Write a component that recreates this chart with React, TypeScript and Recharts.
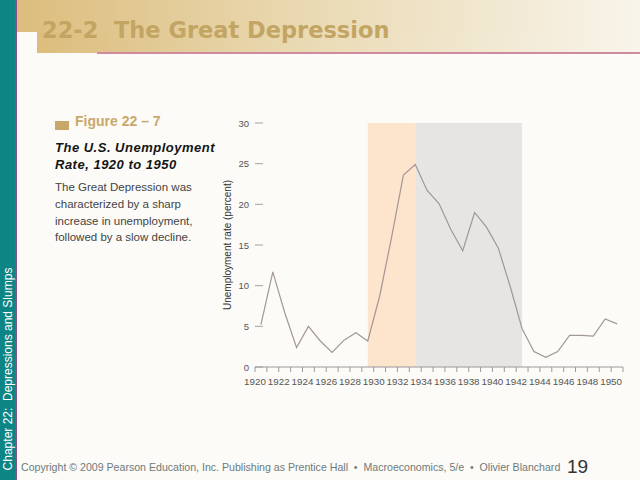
import { LineChart, Line, XAxis, YAxis, ReferenceArea } from 'recharts'

const years = [
  1920, 1921, 1922, 1923, 1924, 1925, 1926, 1927, 1928, 1929, 1930, 1931, 1932, 1933, 1934, 1935,
  1936, 1937, 1938, 1939, 1940, 1941, 1942, 1943, 1944, 1945, 1946, 1947, 1948, 1949, 1950,
]
const unemploymentRate = [
  5.2, 11.7, 6.7, 2.4, 5.0, 3.2, 1.8, 3.3, 4.2, 3.2, 8.7, 15.9, 23.6, 24.9, 21.7, 20.1,
  16.9, 14.3, 19.0, 17.2, 14.6, 9.9, 4.7, 1.9, 1.2, 1.9, 3.9, 3.9, 3.8, 5.9, 5.3,
]
const yTicks = [0, 5, 10, 15, 20, 25, 30]
const crashYears = [1929, 1933]
const slowRecoveryYears = [1933, 1942]

const chartData = years.map((year, i) => ({ year, rate: unemploymentRate[i] }))
// year boundaries carry the ticks, labels sit on every other boundary
const xTicks = [...years.map((y) => y - 0.5), years[years.length - 1] + 0.5]

const FONT = '"Liberation Sans", Arial, sans-serif'

function YTick(props: any) {
  const { x, y, payload } = props
  return (
    <g>
      <line x1={x + 6} x2={x + 14} y1={y} y2={y} stroke="#a0a0a0" />
      <text x={x} y={y} dy={3.5} textAnchor="end" fontSize={9.5} fill="#555" fontFamily={FONT}>
        {payload.value}
      </text>
    </g>
  )
}

export default function App() {
  return (
    <div
      style={{
        position: 'absolute',
        top: 0,
        left: 0,
        width: 640,
        height: 480,
        background: '#fcfbf8',
        overflow: 'hidden',
        fontFamily: FONT,
      }}
    >
      {/* header band */}
      <div
        style={{
          position: 'absolute',
          left: 17,
          top: 0,
          width: 623,
          height: 32,
          background: 'linear-gradient(to right, #dcbd7d, #ebdbb6 50%, #f8f4ea)',
        }}
      />
      <div
        style={{
          position: 'absolute',
          left: 37,
          top: 32,
          width: 603,
          height: 21,
          background: 'linear-gradient(to right, #dcbd7d, #ebdcb8 48%, #f8f4ea)',
        }}
      />
      <div style={{ position: 'absolute', left: 97, top: 52, width: 543, height: 1.5, background: '#d08aa0' }} />
      <div
        style={{
          position: 'absolute',
          left: 42,
          top: 17,
          fontSize: 22.5,
          fontWeight: 'bold',
          fontFamily: '"DejaVu Sans", sans-serif',
          color: '#c3a563',
          whiteSpace: 'nowrap',
        }}
      >
        22-2&nbsp; The Great Depression
      </div>

      {/* left chapter strip */}
      <div style={{ position: 'absolute', left: 0, top: 0, width: 15, height: 480, background: '#0e8585' }} />
      <div style={{ position: 'absolute', left: 15, top: 0, width: 2, height: 480, background: '#8a4f86' }} />
      <div
        style={{
          position: 'absolute',
          left: 7.5,
          top: 369,
          transform: 'translate(-50%, -50%) rotate(-90deg)',
          color: '#ffffff',
          fontSize: 12,
          whiteSpace: 'nowrap',
        }}
      >
        Chapter 22:&nbsp; Depressions and Slumps
      </div>

      {/* figure caption */}
      <div style={{ position: 'absolute', left: 55, top: 121, width: 14, height: 9, background: '#c8a86a' }} />
      <div
        style={{ position: 'absolute', left: 75, top: 113, fontSize: 14, fontWeight: 'bold', color: '#c8a86a' }}
      >
        Figure 22 – 7
      </div>
      <div
        style={{
          position: 'absolute',
          left: 55,
          top: 139,
          fontSize: 13,
          fontWeight: 'bold',
          fontStyle: 'italic',
          color: '#151515',
          lineHeight: '17px',
          letterSpacing: 0.5,
        }}
      >
        The U.S. Unemployment
        <br />
        Rate, 1920 to 1950
      </div>
      <div
        style={{
          position: 'absolute',
          left: 55,
          top: 179,
          fontSize: 11.5,
          color: '#444',
          lineHeight: '16.8px',
        }}
      >
        The Great Depression was
        <br />
        characterized by a sharp
        <br />
        increase in unemployment,
        <br />
        followed by a slow decline.
      </div>

      {/* chart */}
      <div style={{ position: 'absolute', left: 200, top: 100 }}>
        <LineChart width={440} height={300} data={chartData} margin={{ top: 23, right: 17, left: 0, bottom: 0 }}>
          <ReferenceArea
            x1={crashYears[0]}
            x2={crashYears[1]}
            y1={0}
            y2={30}
            fill="#fde4cd"
            fillOpacity={1}
            stroke="none"
          />
          <ReferenceArea
            x1={slowRecoveryYears[0]}
            x2={slowRecoveryYears[1]}
            y1={0}
            y2={30}
            fill="#e6e5e3"
            fillOpacity={1}
            stroke="none"
          />
          <XAxis
            dataKey="year"
            type="number"
            domain={[1919.5, 1950.5]}
            ticks={xTicks}
            interval={0}
            tickFormatter={(v: number) => ((v + 0.5) % 2 === 0 && v < 1950 ? String(v + 0.5) : '')}
            height={33}
            tickSize={5}
            tickMargin={6}
            stroke="#9a9a9a"
            tick={{ fontSize: 9.8, fill: '#555', fontFamily: FONT }}
          />
          <YAxis
            domain={[0, 30]}
            ticks={yTicks}
            width={55}
            axisLine={false}
            tickLine={false}
            tickSize={0}
            tickMargin={6}
            tick={YTick}
            label={{
              value: 'Unemployment rate (percent)',
              angle: -90,
              position: 'insideLeft',
              offset: 27,
              style: { textAnchor: 'middle', fontSize: 10, fill: '#333', fontFamily: FONT },
            }}
          />
          <Line
            type="linear"
            dataKey="rate"
            stroke="#a39696"
            strokeWidth={1.2}
            dot={false}
            isAnimationActive={false}
          />
        </LineChart>
      </div>

      {/* footer */}
      <div
        style={{
          position: 'absolute',
          left: 21,
          top: 461,
          fontSize: 10.6,
          color: '#6e7a7a',
          whiteSpace: 'nowrap',
        }}
      >
        Copyright © 2009 Pearson Education, Inc. Publishing as Prentice Hall&nbsp; •&nbsp; Macroeconomics, 5/e&nbsp; •&nbsp; Olivier
        Blanchard
      </div>
      <div style={{ position: 'absolute', left: 567, top: 456, fontSize: 19, color: '#333' }}>19</div>
    </div>
  )
}
